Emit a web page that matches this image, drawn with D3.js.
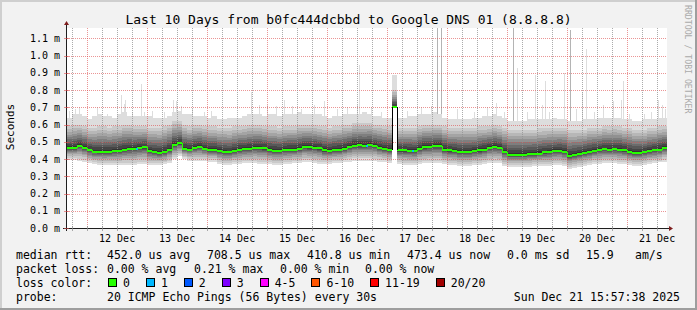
<!DOCTYPE html>
<html lang="en">
<head>
<meta charset="UTF-8">
<script src="https://cdn.jsdelivr.net/npm/d3@7"></script>
<style>
  body { margin: 0; background: #fff; }
  text { font-family: "DejaVu Sans Mono", monospace; fill: #000; }
</style>
</head>
<body>
<div id="chart"></div>
<script>
// ---- data (values in ms, bins of 2 hours) ----
const startTime = new Date(2025, 11, 11, 15, 57, 38);
const endTime = new Date(2025, 11, 21, 15, 57, 38);
const binHours = 2;

const median = [
  0.465,0.465,0.475,0.465,0.45,0.443,0.442,0.44,0.443,0.445,
  0.448,0.455,0.458,0.46,0.465,0.468,0.445,0.44,0.435,0.44,
  0.455,0.48,0.49,0.46,0.455,0.465,0.47,0.46,0.452,0.452,
  0.445,0.44,0.438,0.445,0.455,0.457,0.46,0.465,0.465,0.462,
  0.452,0.448,0.447,0.452,0.455,0.455,0.46,0.47,0.468,0.465,
  0.462,0.45,0.448,0.452,0.455,0.46,0.47,0.478,0.48,0.478,
  0.482,0.475,0.465,0.46,0.455,0.70,0.45,0.45,0.447,0.446,
  0.46,0.468,0.47,0.475,0.475,0.455,0.45,0.448,0.44,0.44,
  0.44,0.445,0.45,0.455,0.465,0.47,0.465,0.44,0.425,0.425,
  0.425,0.425,0.428,0.43,0.432,0.438,0.44,0.445,0.447,0.44,
  0.418,0.422,0.428,0.435,0.44,0.448,0.454,0.456,0.455,0.456,
  0.455,0.45,0.44,0.437,0.435,0.438,0.445,0.45,0.455,0.465
];
const minPing = [
  0.395,0.395,0.39,0.385,0.375,0.37,0.365,0.365,0.365,0.365,
  0.365,0.365,0.365,0.365,0.37,0.37,0.365,0.365,0.365,0.37,
  0.375,0.40,0.415,0.40,0.39,0.39,0.39,0.39,0.385,0.385,
  0.37,0.365,0.365,0.37,0.37,0.375,0.375,0.375,0.37,0.37,
  0.37,0.365,0.365,0.37,0.37,0.375,0.375,0.38,0.38,0.375,
  0.37,0.37,0.37,0.375,0.375,0.38,0.385,0.39,0.39,0.39,
  0.39,0.39,0.385,0.38,0.375,0.70,0.37,0.365,0.365,0.365,
  0.37,0.375,0.375,0.375,0.375,0.37,0.365,0.365,0.36,0.36,
  0.36,0.365,0.365,0.37,0.375,0.375,0.375,0.36,0.355,0.355,
  0.355,0.355,0.355,0.36,0.36,0.36,0.36,0.365,0.365,0.36,
  0.345,0.35,0.355,0.36,0.365,0.37,0.37,0.375,0.375,0.375,
  0.37,0.37,0.365,0.36,0.36,0.365,0.37,0.375,0.38,0.385
];
const upperPing = [
  0.59,0.60,0.60,0.59,0.58,0.58,0.59,0.59,0.58,0.59,
  0.59,0.60,0.60,0.59,0.59,0.59,0.58,0.58,0.58,0.59,
  0.60,0.62,0.62,0.60,0.59,0.60,0.60,0.59,0.59,0.59,
  0.58,0.58,0.58,0.59,0.59,0.59,0.60,0.60,0.60,0.59,
  0.59,0.59,0.58,0.59,0.59,0.59,0.60,0.60,0.60,0.60,
  0.59,0.59,0.58,0.59,0.59,0.60,0.60,0.61,0.61,0.61,
  0.61,0.60,0.60,0.59,0.59,0.80,0.58,0.58,0.58,0.58,
  0.59,0.60,0.60,0.60,0.60,0.59,0.58,0.58,0.58,0.58,
  0.58,0.58,0.59,0.59,0.59,0.60,0.59,0.58,0.57,0.57,
  0.57,0.57,0.57,0.57,0.58,0.58,0.58,0.58,0.58,0.58,
  0.57,0.57,0.57,0.57,0.58,0.58,0.58,0.59,0.59,0.59,
  0.59,0.58,0.58,0.57,0.57,0.57,0.58,0.58,0.59,0.59
];
const maxPing = [
  0.64,0.66,0.66,0.65,0.63,0.65,0.66,0.65,0.65,0.64,
  0.66,0.67,0.65,0.65,0.65,0.65,0.65,0.64,0.64,0.64,
  0.65,0.67,0.68,0.66,0.66,0.65,0.65,0.65,0.64,0.65,
  0.63,0.63,0.64,0.64,0.64,0.65,0.66,0.66,0.66,0.65,
  0.66,0.66,0.65,0.66,0.66,0.66,0.67,0.66,0.66,0.66,
  0.66,0.65,0.64,0.65,0.65,0.66,0.66,0.66,0.66,0.67,
  0.66,0.65,0.65,0.64,0.64,0.89,0.64,0.64,0.65,0.65,
  0.66,0.66,0.66,0.67,0.66,0.64,0.63,0.63,0.63,0.63,
  0.63,0.64,0.64,0.65,0.65,0.66,0.65,0.64,0.62,0.62,
  0.62,0.62,0.63,0.63,0.63,0.63,0.63,0.64,0.63,0.63,
  0.62,0.62,0.62,0.63,0.63,0.63,0.64,0.64,0.64,0.64,
  0.64,0.63,0.63,0.62,0.62,0.63,0.63,0.63,0.64,0.64
];
// single outlier pings: [hours after start, ms]
const spikes = [
  [0.8,0.68],[3.2,0.69],[4.8,0.70],[12,0.70],[16,0.66],[21.6,0.77],[22.8,0.72],[23.6,0.74],
  [26,0.67],[29.9,0.835],[30.8,0.67],[34,0.68],[38.8,0.67],[42.4,0.742],[43.6,0.735],[45.6,0.705],
  [50,0.69],[54.8,0.67],[57.6,0.68],[73.6,0.79],[76.8,0.715],[80,0.715],[83.6,0.705],[86.8,0.745],
  [90,0.705],[93.6,0.69],[98.8,0.715],[102.8,0.735],[108,0.69],[112,0.70],[116,0.715],[116.9,0.948],
  [121.6,0.70],[125.6,0.67],[136,0.68],[141.6,0.70],[145.6,0.705],[148.1,1.2],[149.6,1.2],[156,0.69],
  [162.8,0.67],[168,0.70],[171.6,0.725],[174.8,0.67],[178.5,1.2],[180.1,0.93],[184,0.67],[187.5,0.89],
  [190,0.715],[191.5,0.85],[192.8,0.67],[198.8,0.90],[201.2,1.15],[204,0.69],[206,0.79],[207.9,1.04],
  [210.8,0.67],[214.4,0.715],[218.8,0.735],[221.6,0.745],[222.4,0.855],[224.8,0.66],[230.8,0.66],
  [233.6,0.67],[236.4,0.74],[238,0.715],[239.2,0.69]
];
// bins where 1 of 20 pings was lost
const lossMarks = [[27.6,1],[119.6,1],[138,1]];

const lossLabels = ["0","1","2","3","4-5","6-10","11-19","20/20"];
const lossColors = ["#26ff00","#00b8ff","#0059ff","#7e00ff","#ff00ff","#ff5500","#ff0000","#a10000"];

const titleText = "Last 10 Days from b0fc444dcbbd to Google DNS 01 (8.8.8.8)";
const rttItems = ["median rtt:", "452.0 us avg", "708.5 us max", "410.8 us min", "473.4 us now", "0.0 ms sd", "15.9", "am/s"];
const lossItems = ["packet loss:", "0.00 % avg", "0.21 % max", "0.00 % min", "0.00 % now"];
const probeItems = ["probe:", "20 ICMP Echo Pings (56 Bytes) every 30s"];
const stampText = "Sun Dec 21 15:57:38 2025";

// ---- drawing ----
const W = 697, H = 310;
const pLeft = 67, pRight = 667, pTop = 28, pBottom = 228;
const hour = 3600e3;

const svg = d3.select("#chart").append("svg")
  .attr("width", W).attr("height", H)
  .attr("shape-rendering", "crispEdges");

svg.append("rect").attr("width", W).attr("height", H).attr("fill", "#f2f2f2");
svg.append("rect").attr("x", 0).attr("y", 0).attr("width", W).attr("height", 2).attr("fill", "#cfcfcf");
svg.append("rect").attr("x", 0).attr("y", 0).attr("width", 2).attr("height", H).attr("fill", "#cfcfcf");
svg.append("rect").attr("x", 0).attr("y", H - 2).attr("width", W).attr("height", 2).attr("fill", "#9e9e9e");
svg.append("rect").attr("x", W - 2).attr("y", 0).attr("width", 2).attr("height", H).attr("fill", "#9e9e9e");

svg.append("rect").attr("x", pLeft).attr("y", pTop)
  .attr("width", pRight - pLeft).attr("height", pBottom - pTop).attr("fill", "#fff");

const x = d3.scaleTime().domain([startTime, endTime]).range([pLeft, pRight]);
const y = d3.scaleLinear().domain([0, 200 / 172.45]).range([pBottom, pTop]);
const yMax = y.domain()[1];

const binT = i => new Date(+startTime + i * binHours * hour);
const bins = median.map((m, i) => ({
  x0: Math.round(x(binT(i))), x1: Math.round(x(binT(i + 1))),
  med: m, lo: minPing[i], hi: upperPing[i], max: maxPing[i]
}));

const plot = svg.append("g");

// outlier columns
plot.selectAll("rect.spike").data(spikes).enter().append("rect")
  .attr("class", "spike")
  .attr("x", d => Math.floor(x(new Date(+startTime + d[0] * hour))))
  .attr("width", 1)
  .attr("y", d => y(Math.min(d[1], yMax)))
  .attr("height", d => {
    const b = bins[Math.min(bins.length - 1, Math.floor(d[0] / binHours))];
    return Math.max(0, y(b.med) - y(Math.min(d[1], yMax)));
  })
  .attr("fill", d => d[1] > 1.1 ? "#b4b4b4" : "#dddddd");

// smoke: 10 nested bands, outer light to inner dark
const upperFrac = [1, 0.86, 0.73, 0.61, 0.5, 0.39, 0.28, 0.18, 0.08];
const lowerFrac = [0.85, 0.7, 0.55, 0.42, 0.32, 0.23, 0.15, 0.08, 0];
for (let ib = 1; ib <= 10; ib++) {
  const c = Math.floor(190 / 10 * (10 - ib)) + 50;
  const col = d3.rgb(c, c, c).formatHex();
  plot.append("g").selectAll("rect").data(bins).enter().append("rect")
    .attr("x", d => d.x0)
    .attr("width", d => d.x1 - d.x0)
    .attr("y", d => ib === 1 ? y(d.max) : y(d.med + (d.hi - d.med) * upperFrac[ib - 2]))
    .attr("height", d => {
      const u = ib === 1 ? d.max : d.med + (d.hi - d.med) * upperFrac[ib - 2];
      const l = ib === 1 ? d.lo : d.med - (d.med - d.lo) * lowerFrac[ib - 2];
      return Math.max(0, y(l) - y(u));
    })
    .attr("fill", col);
}

// grid (drawn over the smoke like rrdtool)
const grid = svg.append("g");
const yTicks = y.ticks(12);
grid.selectAll("line.h").data(yTicks.filter(v => v > 0)).enter().append("line")
  .attr("x1", pLeft).attr("x2", pRight)
  .attr("y1", d => Math.round(y(d)) + 0.5).attr("y2", d => Math.round(y(d)) + 0.5)
  .attr("stroke", "rgba(222,79,79,0.6)").attr("stroke-dasharray", "1,1");
const minorT = d3.timeHour.every(6).range(startTime, endTime).filter(t => t.getHours() !== 0);
const majorT = d3.timeDay.range(startTime, endTime);
grid.selectAll("line.vm").data(minorT).enter().append("line")
  .attr("x1", d => Math.round(x(d)) + 0.5).attr("x2", d => Math.round(x(d)) + 0.5)
  .attr("y1", pTop).attr("y2", pBottom)
  .attr("stroke", "rgba(143,143,143,0.75)").attr("stroke-dasharray", "1,1");
grid.selectAll("line.vM").data(majorT).enter().append("line")
  .attr("x1", d => Math.round(x(d)) + 0.5).attr("x2", d => Math.round(x(d)) + 0.5)
  .attr("y1", pTop).attr("y2", pBottom)
  .attr("stroke", "rgba(222,79,79,0.6)").attr("stroke-dasharray", "1,1");

// median line, green for 0 loss
const medG = svg.append("g");
medG.selectAll("line.seg").data(bins).enter().append("line")
  .attr("x1", d => d.x0).attr("x2", d => d.x1)
  .attr("y1", d => Math.round(y(d.med))).attr("y2", d => Math.round(y(d.med)))
  .attr("stroke", lossColors[0]).attr("stroke-width", 2);
medG.selectAll("line.join").data(bins.slice(1)).enter().append("line")
  .attr("x1", d => d.x0 + 0.5).attr("x2", d => d.x0 + 0.5)
  .attr("y1", (d, i) => Math.round(y(bins[i].med)))
  .attr("y2", d => Math.round(y(d.med)))
  .attr("stroke", (d, i) => Math.abs(d.med - bins[i].med) > 0.1 ? "#000" : lossColors[0])
  .attr("stroke-width", 1);
medG.selectAll("rect.loss").data(lossMarks).enter().append("rect")
  .attr("x", d => Math.floor(x(new Date(+startTime + d[0] * hour))))
  .attr("width", 2)
  .attr("y", d => Math.round(y(bins[Math.floor(d[0] / binHours)].med)) - 1)
  .attr("height", 2)
  .attr("fill", d => lossColors[d[1]]);

// axes
const axisCol = "#1f1f1f", arrowCol = "#7f1f1f";
svg.append("line").attr("x1", pLeft - 0.5).attr("x2", pLeft - 0.5).attr("y1", pBottom + 3).attr("y2", pTop - 5)
  .attr("stroke", axisCol);
svg.append("line").attr("x1", pLeft - 4).attr("x2", pRight + 3).attr("y1", pBottom + 0.5).attr("y2", pBottom + 0.5)
  .attr("stroke", axisCol);
svg.append("path").attr("d", `M${pLeft - 3},${pTop - 3}L${pLeft + 2},${pTop - 3}L${pLeft - 0.5},${pTop - 7}Z`)
  .attr("fill", arrowCol).attr("shape-rendering", "auto");
svg.append("path").attr("d", `M${pRight + 2},${pBottom - 2}L${pRight + 2},${pBottom + 3}L${pRight + 6},${pBottom + 0.5}Z`)
  .attr("fill", arrowCol).attr("shape-rendering", "auto");

// tick marks
svg.selectAll("line.yt").data(yTicks).enter().append("line")
  .attr("x1", pLeft - 3).attr("x2", pLeft + 2)
  .attr("y1", d => Math.round(y(d)) + 0.5).attr("y2", d => Math.round(y(d)) + 0.5)
  .attr("stroke", "rgba(222,79,79,0.6)");
svg.selectAll("line.xt").data(majorT.concat(minorT)).enter().append("line")
  .attr("x1", d => Math.round(x(d)) + 0.5).attr("x2", d => Math.round(x(d)) + 0.5)
  .attr("y1", pBottom - 2).attr("y2", pBottom + 3)
  .attr("stroke", "rgba(143,143,143,0.75)");

// tick labels
const fmtY = d3.format(".1f");
svg.selectAll("text.yl").data(yTicks).enter().append("text")
  .attr("x", 60).attr("y", d => y(d) + 3.5)
  .attr("text-anchor", "end").attr("font-size", "10px")
  .text(d => fmtY(d) + " m");
const fmtX = d3.timeFormat("%d %b");
svg.selectAll("text.xl").data(majorT.map(t => d3.timeHour.offset(t, 12))).enter().append("text")
  .attr("x", d => x(d)).attr("y", 241.5)
  .attr("text-anchor", "middle").attr("font-size", "10px")
  .text(d => fmtX(d));

// titles
svg.append("text").attr("x", 348.5).attr("y", 24).attr("text-anchor", "middle")
  .attr("font-size", "13px").text(titleText);
svg.append("text").attr("transform", "translate(14,127) rotate(-90)")
  .attr("text-anchor", "middle").attr("font-size", "11px").text("Seconds");
svg.append("text").attr("transform", "translate(684.5,5) rotate(90)")
  .attr("font-size", "8.2px").style("fill", "#aaaaaa").text("RRDTOOL / TOBI OETIKER");

// legend, one text per rrdtool legend item
const legFont = "11.5px";
const cw = 6.92;
const rttX = [16, 107, 207, 307, 407, 507, 586, 635];
const lossX = [16, 107, 194, 280, 365];
const probeX = [16, 107];
function legendRow(items, xs, yb) {
  svg.append("g").selectAll("text").data(items).enter().append("text")
    .attr("x", (d, i) => xs[i]).attr("y", yb).attr("font-size", legFont)
    .text(d => d);
}
legendRow(rttItems, rttX, 258.5);
legendRow(lossItems, lossX, 272.5);
legendRow(["loss color:"], [16], 286.5);
legendRow(probeItems, probeX, 300.5);
let bx = 108;
lossLabels.forEach((lab, i) => {
  svg.append("rect").attr("x", bx + 0.5).attr("y", 278.5).attr("width", 8).attr("height", 8)
    .attr("fill", lossColors[i]).attr("stroke", "#000");
  svg.append("text").attr("x", bx + 15).attr("y", 286.5).attr("font-size", legFont).text(lab);
  bx = bx + 15 + lab.length * cw + 16;
});
svg.append("text").attr("x", 680).attr("y", 300.5).attr("text-anchor", "end").attr("font-size", legFont)
  .text(stampText);
</script>
</body>
</html>
